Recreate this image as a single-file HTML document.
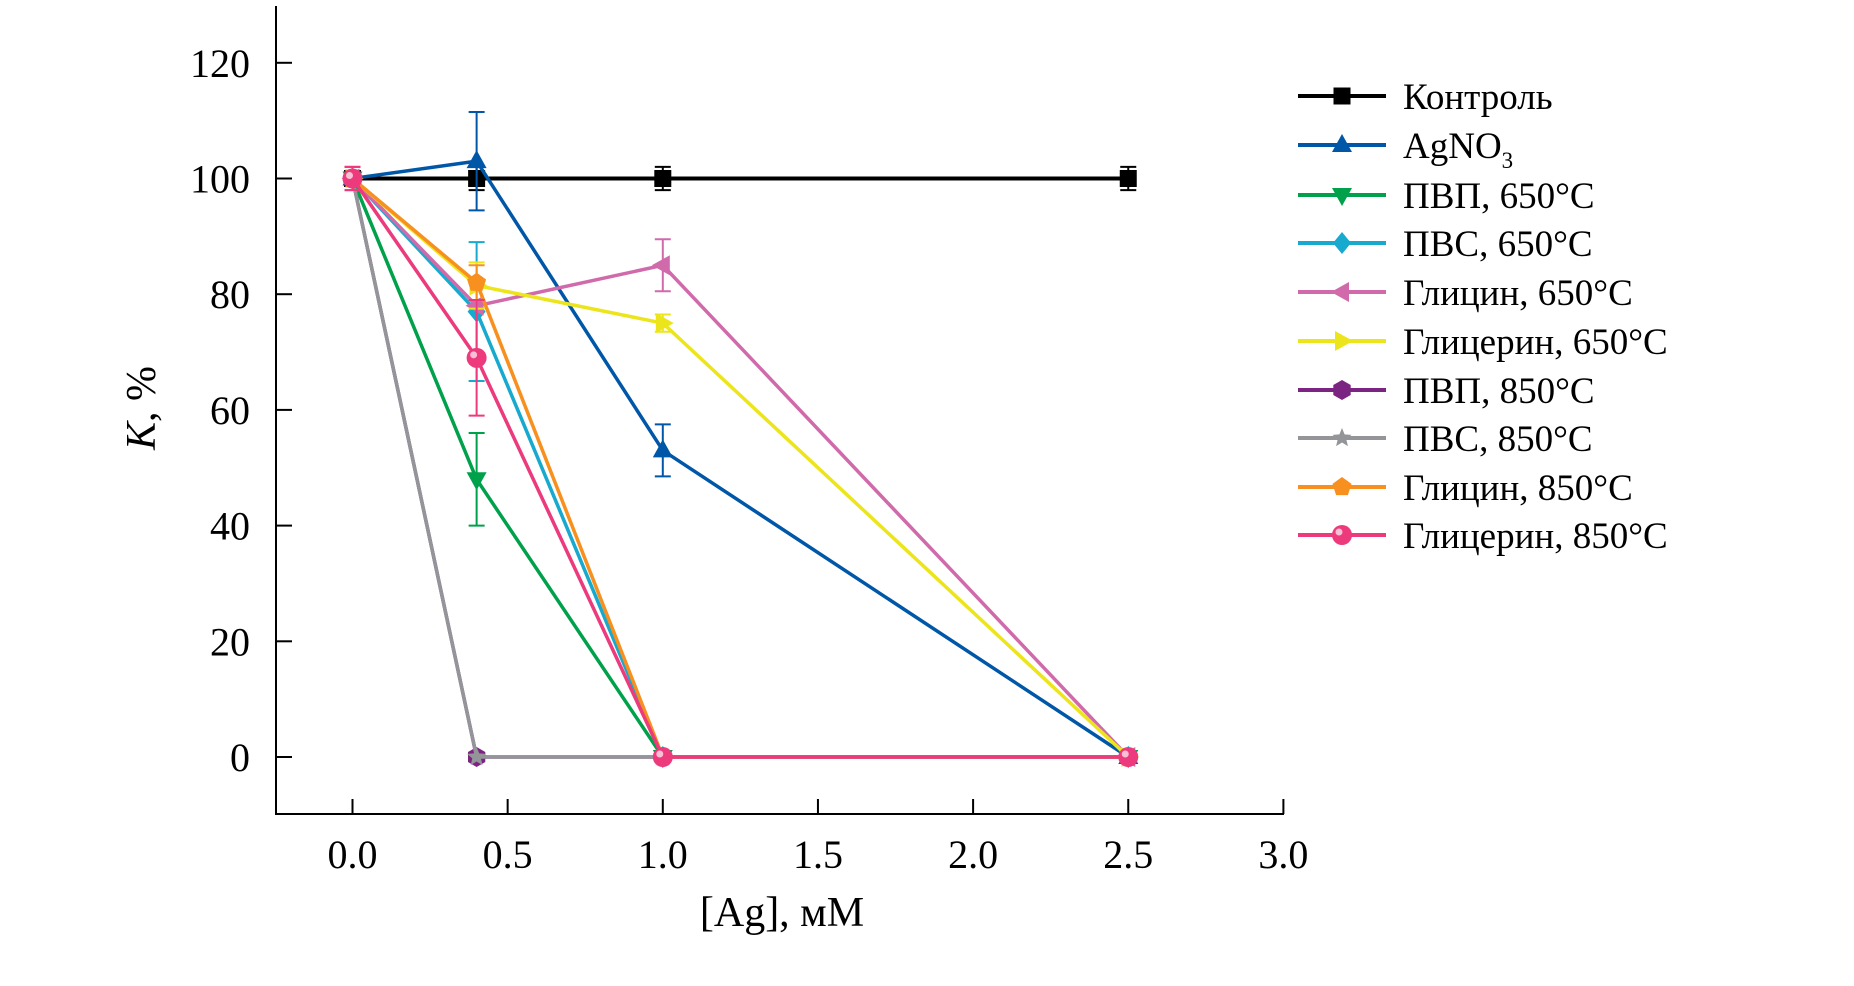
<!DOCTYPE html>
<html><head><meta charset="utf-8"><style>
html,body{margin:0;padding:0;background:#fff;}
svg text{font-family:"Liberation Serif","DejaVu Serif",serif;}
</style></head><body>
<svg id="chart" width="1854" height="981" viewBox="0 0 1854 981" xmlns="http://www.w3.org/2000/svg">
<g id="axes"></g>
<g id="series"></g>
<g id="legend"></g>
<text x="782" y="926" font-size="42" text-anchor="middle">[Ag], мМ</text>
<text transform="translate(155,408) rotate(-90)" font-size="42" text-anchor="middle"><tspan font-style="italic">K</tspan>, %</text>
</svg>
<script>
const xValues = [0, 0.4, 1.0, 2.5];
const xTicks = [0, 0.5, 1.0, 1.5, 2.0, 2.5, 3.0];
const xTickLabels = ["0.0","0.5","1.0","1.5","2.0","2.5","3.0"];
const yTicks = [0, 20, 40, 60, 80, 100, 120];
const seriesNames = ["Контроль","AgNO3","ПВП, 650°C","ПВС, 650°C","Глицин, 650°C","Глицерин, 650°C","ПВП, 850°C","ПВС, 850°C","Глицин, 850°C","Глицерин, 850°C"];
const seriesColors = ["#000000","#0057a8","#00a14b","#17a9ce","#d06aaa","#ece51c","#7b2482","#939598","#f7901e","#ec3a7c"];
const seriesMarkers = ["square","tri-up","tri-down","diamond","tri-left","tri-right","hexagon","star","pentagon","circle"];
const valControl = [100, 100, 100, 100];
const valAgNO3 = [100, 103, 53, 0];
const valPVP650 = [100, 48, 0, 0];
const valPVS650 = [100, 77, 0, 0];
const valGly650 = [100, 78, 85, 0];
const valGlyc650 = [100, 81.5, 75, 0];
const valPVP850 = [100, 0, 0, 0];
const valPVS850 = [100, 0, 0, 0];
const valGly850 = [100, 82, 0, 0];
const valGlyc850 = [100, 69, 0, 0];
const errControl = [2, 2, 2, 2];
const errAgNO3 = [0, 8.5, 4.5, 0];
const errPVP650 = [0, 8, 0, 0];
const errPVS650 = [0, 12, 0, 0];
const errGly650 = [2, 0, 4.5, 0];
const errGlyc650 = [2, 4, 1.5, 0];
const errPVP850 = [0, 0, 0, 0];
const errPVS850 = [0, 0, 0, 0];
const errGly850 = [2, 3, 0, 0];
const errGlyc850 = [2, 10, 0, 0];
const allVals = [valControl,valAgNO3,valPVP650,valPVS650,valGly650,valGlyc650,valPVP850,valPVS850,valGly850,valGlyc850];
const allErrs = [errControl,errAgNO3,errPVP650,errPVS650,errGly650,errGlyc650,errPVP850,errPVS850,errGly850,errGlyc850];

const NS="http://www.w3.org/2000/svg";
const X0=352.5, XU=310.3, Y0=757, YU=115.7/20;
function sx(v){return X0+v*XU;}
function sy(v){return Y0-v*YU;}
function mk(tag,attrs,parent){const e=document.createElementNS(NS,tag);for(const k in attrs)e.setAttribute(k,attrs[k]);parent.appendChild(e);return e;}
const axes=document.getElementById('axes');
let e;
e=mk('line',{x1:276,y1:6,x2:276,y2:815,stroke:'#000','stroke-width':2},axes);


e=mk('line',{x1:275,y1:814,x2:1284,y2:814,stroke:'#000','stroke-width':2},axes);


yTicks.forEach(t=>{
  const l=mk('line',{x1:276,y1:sy(t),x2:292,y2:sy(t),stroke:'#000','stroke-width':2},axes);
  
  
  const tx=mk('text',{x:250,y:sy(t)+14,'font-size':40,'text-anchor':'end'},axes);
  tx.textContent=t;
  
  
});
xTicks.forEach((t,i)=>{
  const l=mk('line',{x1:sx(t),y1:814,x2:sx(t),y2:799,stroke:'#000','stroke-width':2},axes);
  
  
  const tx=mk('text',{x:sx(t),y:868,'font-size':40,'text-anchor':'middle'},axes);
  tx.textContent=xTickLabels[i];
  
  
});
function marker(type,cx,cy,r,color,parent){
  let pts=null;
  const P=(arr)=>arr.map(a=>(cx+a[0]).toFixed(1)+','+(cy+a[1]).toFixed(1)).join(' ');
  if(type==='square') return mk('rect',{x:cx-r*0.85,y:cy-r*0.85,width:r*1.7,height:r*1.7,fill:color},parent);
  if(type==='circle'){const g=mk('circle',{cx:cx,cy:cy,r:r,fill:color},parent);mk('circle',{cx:cx-r*0.3,cy:cy-r*0.3,r:r*0.35,fill:'#f7c0d4'},parent);return g;}
  if(type==='tri-up') pts=[[0,-r*1.1],[r,r*0.7],[-r,r*0.7]];
  if(type==='tri-down') pts=[[0,r*1.1],[r,-r*0.7],[-r,-r*0.7]];
  if(type==='tri-left') pts=[[-r*1.1,0],[r*0.7,r],[r*0.7,-r]];
  if(type==='tri-right') pts=[[r*1.1,0],[-r*0.7,r],[-r*0.7,-r]];
  if(type==='diamond') pts=[[0,-r*1.1],[r*0.9,0],[0,r*1.1],[-r*0.9,0]];
  if(type==='hexagon'){pts=[];for(let i=0;i<6;i++){const a=Math.PI/6+i*Math.PI/3;pts.push([r*Math.cos(a),r*Math.sin(a)]);}}
  if(type==='pentagon'){pts=[];for(let i=0;i<5;i++){const a=-Math.PI/2+i*2*Math.PI/5;pts.push([r*Math.cos(a),r*Math.sin(a)]);}}
  if(type==='star'){pts=[];for(let i=0;i<10;i++){const a=-Math.PI/2+i*Math.PI/5;const rr=i%2?r*0.45:r;pts.push([rr*Math.cos(a),rr*Math.sin(a)]);}}
  return mk('polygon',{points:P(pts),fill:color},parent);
}
const sg=document.getElementById('series');
allVals.forEach((vals,si)=>{
  const g=mk('g',{},sg);
  
  
  const col=seriesColors[si];
  const d=vals.map((v,i)=>(i?'L':'M')+sx(xValues[i]).toFixed(1)+','+sy(v).toFixed(1)).join(' ');
  const p=mk('path',{d:d,fill:'none',stroke:col,'stroke-width':si===0?4:3.5},g);
  
  
  vals.forEach((v,i)=>{
    const er=allErrs[si][i];
    if(er>0){
      const x=sx(xValues[i]),y1=sy(v-er),y2=sy(v+er);
      const eg=mk('g',{stroke:col,'stroke-width':2},g);
      
      
      mk('line',{x1:x,y1:y1,x2:x,y2:y2},eg);
      mk('line',{x1:x-8,y1:y1,x2:x+8,y2:y1},eg);
      mk('line',{x1:x-8,y1:y2,x2:x+8,y2:y2},eg);
    }
    const m=marker(seriesMarkers[si],sx(xValues[i]),sy(v),10,col,g);
    
    
  });
});
const lg=document.getElementById('legend');
const rowsY=[96,145,195,243,292,341,390,438,487,535];
seriesNames.forEach((n,i)=>{
  const g=mk('g',{},lg);
  
  
  const y=rowsY[i];
  mk('line',{x1:1298,y1:y,x2:1386,y2:y,stroke:seriesColors[i],'stroke-width':4},g);
  marker(seriesMarkers[i],1342,y,10,seriesColors[i],g);
  const t=mk('text',{x:1403,y:y+13,'font-size':37},g);
  if(n==='AgNO3'){t.textContent='AgNO';const s=mk('tspan',{'font-size':23,dy:10},t);s.textContent='3';}
  else t.textContent=n;
});
</script>
</body></html>
